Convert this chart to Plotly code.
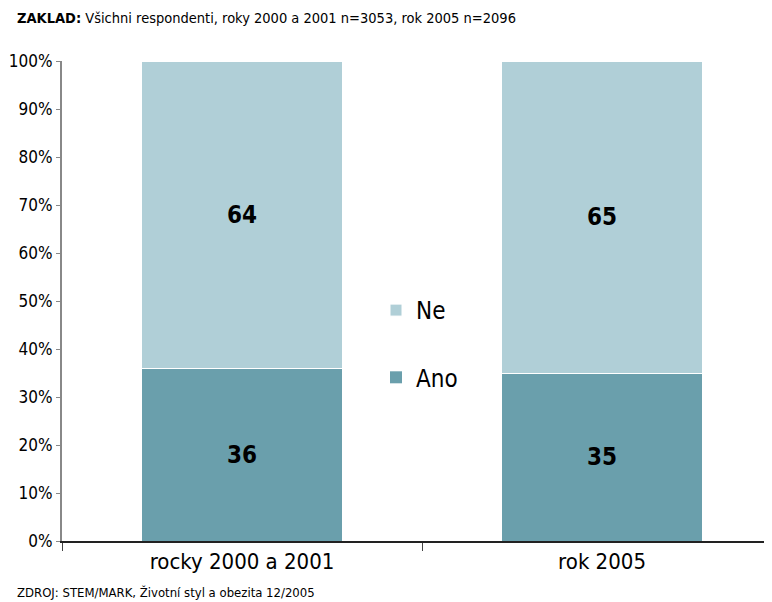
import plotly.graph_objects as go

categories = ["rocky 2000 a 2001", "rok 2005"]
ano = [36, 35]
ne = [64, 65]

FONT = "DejaVu Sans Condensed, Liberation Sans Narrow, Arial Narrow, sans-serif"

# page body has an 8px margin; work in screen pixels and shift
OFF = 8
W, H = 772 - OFF, 602 - OFF
l, r, t, b = 62 - OFF, 0, 61 - OFF, 61
pw, ph = W - l - r, H - t - b


def px_x(px):
    return (px - OFF - l) / pw


def px_y(py):
    return 1 - (py - OFF - t) / ph


fig = go.Figure()
fig.add_trace(go.Bar(x=categories, y=ano, name="Ano", marker_color="#6A9FAC",
                     marker_line_width=0, width=0.556, legendgroup="a", legendrank=2,
                     text=ano, textposition="inside", insidetextanchor="middle",
                     textfont=dict(size=24, color="black", family=FONT, weight="bold")))
fig.add_trace(go.Bar(x=categories, y=ne, name="Ne", marker_color="#B0CFD7",
                     marker_line=dict(width=1, color="white"), width=0.556, legendgroup="b",
                     legendrank=1,
                     text=ne, textposition="inside", insidetextanchor="middle",
                     textfont=dict(size=24, color="black", family=FONT, weight="bold")))

fig.update_layout(
    width=W, height=H,
    margin=dict(l=l, r=r, t=t, b=b, autoexpand=False),
    barmode="stack",
    plot_bgcolor="white", paper_bgcolor="white",
    font=dict(family=FONT, color="black"),
    showlegend=True,
    legend=dict(x=px_x(376), y=px_y(288), xanchor="left", yanchor="top",
                traceorder="grouped", tracegroupgap=33,
                font=dict(size=24, family=FONT), itemwidth=30,
                bgcolor="rgba(0,0,0,0)"),
    xaxis=dict(range=[-0.5, 1.472], showline=True, linecolor="#222", linewidth=1.5,
               ticks="outside", tickson="boundaries", ticklen=8, tickcolor="#444",
               tickfont=dict(size=22, family=FONT), showgrid=False, automargin=False),
    yaxis=dict(range=[0, 100], dtick=10, ticksuffix="%", showline=True,
               linecolor="#888", linewidth=2, ticks="outside", ticklen=4,
               tickcolor="#888", tickfont=dict(size=17, family=FONT),
               showgrid=False, zeroline=False, automargin=False),
    annotations=[
        dict(text="<b>ZAKLAD:</b> Všichni respondenti, roky 2000 a 2001 n=3053, rok 2005 n=2096",
             x=px_x(15), y=px_y(18), xref="paper", yref="paper", showarrow=False,
             xanchor="left", yanchor="middle", font=dict(size=14.5, family=FONT)),
        dict(text="ZDROJ: STEM/MARK, Životní styl a obezita 12/2005",
             x=px_x(15), y=px_y(592), xref="paper", yref="paper", showarrow=False,
             xanchor="left", yanchor="middle", font=dict(size=13, family=FONT)),
    ],
)

fig.write_html("out.html")
